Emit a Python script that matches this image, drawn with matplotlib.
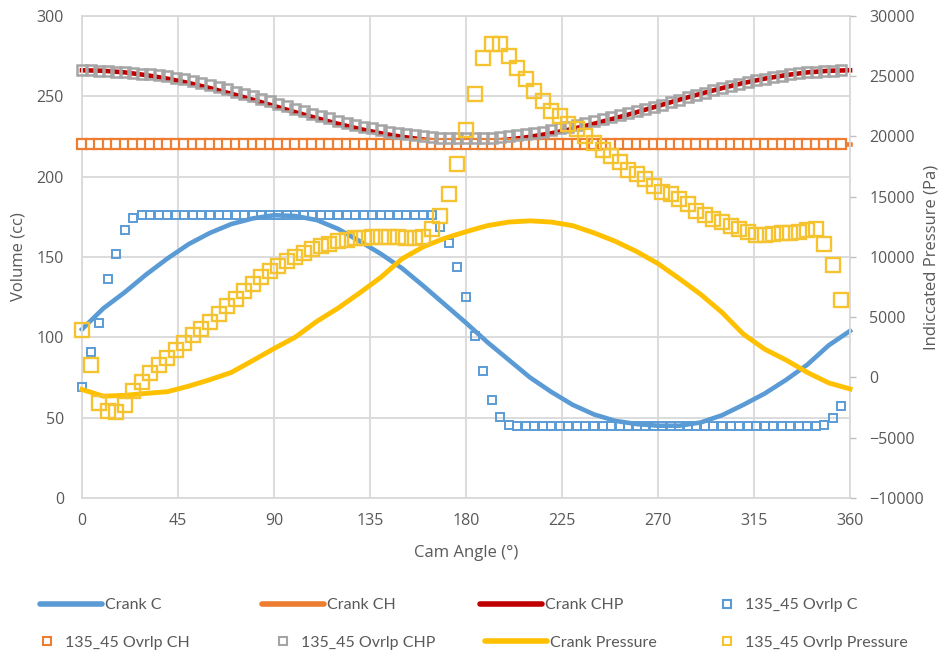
"""Volume and indicated pressure vs cam angle: crank vs 135_45 overlap."""
import matplotlib

matplotlib.use("Agg")
import matplotlib.pyplot as plt
from matplotlib.lines import Line2D

plt.rcParams["font.family"] = ["Open Sans", "DejaVu Sans"]

# ---- data ----
angle_crank = [0, 10, 20, 30, 40, 50, 60, 70, 80, 90, 100, 110, 120, 130, 140, 150, 160, 170,
               180, 190, 200, 210, 220, 230, 240, 250, 260, 270, 280, 290, 300, 310, 320, 330,
               340, 350, 360]
crank_c = [105, 118, 128, 139, 149, 158, 165, 170.5, 174, 176, 175.5, 173, 167.5, 160, 152, 143,
           132, 120.5, 109, 97, 86, 75, 66, 58, 52, 48, 46, 45, 45, 47, 51.5, 58, 65, 73.5,
           83, 95, 104]
crank_ch = [220.5] * len(angle_crank)
crank_chp = [266.2, 265.9, 264.9, 263.2, 261.0, 258.3, 255.1, 251.6, 247.9, 244.0, 240.1, 236.4,
             232.9, 229.7, 227.0, 224.8, 223.1, 222.1, 221.8, 222.1, 223.1, 224.8, 227.0, 229.7,
             232.9, 236.4, 240.1, 244.0, 247.9, 251.6, 255.1, 258.3, 261.0, 263.2, 264.9, 265.9,
             266.2]
crank_pressure = [-1000, -1550, -1480, -1320, -1180, -720, -180, 420, 1400, 2400, 3350, 4650,
                  5750, 7000, 8300, 9850, 10850, 11550, 12100, 12600, 12900, 13000, 12900, 12600,
                  12000, 11300, 10450, 9450, 8200, 6900, 5400, 3600, 2350, 1450, 420, -450, -950]

angle_ovrlp = list(range(0, 360, 4))
ovrlp_c = [69, 91, 109, 136, 152, 167, 174, 176,
           176, 176, 176, 176, 176, 176, 176, 176, 176, 176, 176, 176, 176, 176, 176, 176, 176,
           176, 176, 176, 176, 176, 176, 176, 176, 176, 176, 176, 176, 176, 176, 176, 176, 176,
           168.5, 158.5, 144, 125, 101, 79, 61, 50.5, 45.5,
           44.5, 44.5, 44.5, 44.5, 44.5, 44.5, 44.5, 44.5, 44.5, 44.5, 44.5, 44.5, 44.5, 44.5,
           44.5, 44.5, 44.5, 44.5, 44.5, 44.5, 44.5, 44.5, 44.5, 44.5, 44.5, 44.5, 44.5, 44.5,
           44.5, 44.5, 44.5, 44.5, 44.5, 44.5, 44.5, 44.5,
           45.5, 50, 57]
ovrlp_ch = [220.5] * len(angle_ovrlp)
ovrlp_chp = [266.2, 266.1, 266.0, 265.7, 265.3, 264.9, 264.6, 264.2, 263.7, 263.2, 262.5, 261.7,
             260.8, 259.7, 258.4, 257.1, 255.7, 254.3, 252.9, 251.4, 249.9, 248.3, 246.8, 245.2,
             243.7, 242.1, 240.6, 239.1, 237.7, 236.3, 234.9, 233.6, 232.3, 231.1, 230.0, 229.0,
             228.0, 227.2, 226.4, 225.7, 225.1, 224.7, 224.3, 224.0, 223.9, 223.8, 223.9, 224.0,
             224.3, 224.7, 225.1, 225.7, 226.4, 227.2, 228.0, 229.0, 230.0, 231.1, 232.3, 233.6,
             234.9, 236.1, 237.2, 238.3, 239.5, 240.7, 242.0, 243.2, 244.8, 246.3, 247.9, 249.4,
             250.9, 252.3, 253.7, 255.1, 256.4, 257.7, 258.9, 260.0, 261.0, 262.0, 262.8, 263.6,
             264.3, 264.9, 265.3, 265.7, 266.0, 266.1]
ovrlp_pressure = [3900, 1000, -2100, -2750, -2850, -2300, -1100, -350, 350, 1000, 1650, 2300,
                  2900, 3500, 4050, 4600, 5250, 5950, 6550, 7150, 7750, 8300, 8800, 9250, 9650,
                  10000, 10350, 10650, 10900, 11100, 11300, 11450, 11550, 11600, 11650, 11650,
                  11650, 11650, 11600, 11600, 11700, 12300, 13400, 15250, 17700, 20500, 23500,
                  26500, 27700, 27700, 26700, 25700, 24750, 23800, 22950, 22150, 21700, 21030,
                  20600, 20050, 19500, 18850, 18400, 17850, 17200, 16900, 16450, 15900, 15400,
                  15200, 14800, 14400, 13850, 13450, 13150, 12900, 12600, 12350, 12050, 11800,
                  11850, 11900, 11950, 12000, 12100, 12250, 12300, 11100, 9300, 6450]

angle_ticks = [0, 45, 90, 135, 180, 225, 270, 315, 360]
volume_ticks = [0, 50, 100, 150, 200, 250, 300]
pressure_ticks = [-10000, -5000, 0, 5000, 10000, 15000, 20000, 25000, 30000]

BLUE = "#5B9BD5"
ORANGE = "#ED7D31"
DARKRED = "#C00000"
GRAY = "#A5A5A5"
GOLD = "#FFC000"
GOLD_MK = "#F5C330"
TEXT = "#595959"
GRID = "#D9D9D9"

fig = plt.figure(figsize=(9.49, 6.55), dpi=100)
ax = fig.add_axes([0.0864, 0.2397, 0.8093, 0.7359])

ax.plot(angle_crank, crank_c, color=BLUE, lw=3.3, zorder=2, clip_on=False)
ax.plot(angle_crank, crank_ch, color=ORANGE, lw=3.3, zorder=2, clip_on=False)
ax.plot(angle_crank, crank_chp, color=DARKRED, lw=3.3, zorder=2, clip_on=False)
ax.plot(angle_ovrlp, ovrlp_c, ls="none", marker="s", ms=6.3, mfc="none", mec=BLUE, mew=1.4,
        zorder=3, clip_on=False)
ax.plot(angle_ovrlp, ovrlp_ch, ls="none", marker="s", ms=6.5, mfc="white", mec=ORANGE, mew=1.6,
        zorder=3, clip_on=False)
ax.plot(angle_ovrlp, ovrlp_chp, ls="none", marker="s", ms=7.6, mfc="none", mec=GRAY, mew=1.8,
        zorder=3, clip_on=False)

ax.set_xlim(0, 360)
ax.set_ylim(0, 300)
ax.set_xticks(angle_ticks)
ax.set_yticks(volume_ticks)
ax.grid(color=GRID, lw=1.3)
ax.set_axisbelow(True)
for side in ax.spines.values():
    side.set_color(GRID)
    side.set_linewidth(1.3)
ax.tick_params(axis="both", length=0, labelsize=11.5, labelcolor=TEXT)
ax.tick_params(axis="x", pad=11)
ax.tick_params(axis="y", pad=13)
ax.set_xlabel("Cam Angle (°)", fontsize=12, color=TEXT)
ax.set_ylabel("Volume (cc)", fontsize=12, color=TEXT)
ax.xaxis.set_label_coords(0.5, -0.098)
ax.yaxis.set_label_coords(-0.072, 0.5)

ax2 = ax.twinx()
ax2.plot(angle_crank, crank_pressure, color=GOLD, lw=3.5, zorder=2, clip_on=False)
ax2.plot(angle_ovrlp, ovrlp_pressure, ls="none", marker="s", ms=10.3, mfc="none", mec=GOLD_MK,
         mew=1.7, zorder=3, clip_on=False)
ax2.set_ylim(-10000, 30000)
ax2.set_yticks(pressure_ticks)
for side in ax2.spines.values():
    side.set_visible(False)
ax2.tick_params(axis="y", length=4, width=1, color="#BFBFBF", pad=10, labelsize=11.5,
                labelcolor=TEXT)
ax2.set_ylabel("Indiccated Pressure (Pa)", fontsize=12, color=TEXT, rotation=90)
ax2.yaxis.set_label_coords(1.096, 0.5)

# ---- legend laid out like the Excel one: two rows of four ----
row_y = [1 - 605 / 655, 1 - 643 / 655]


def line_handle(color):
    return Line2D([], [], color=color, lw=4, solid_capstyle="round")


def box_handle(color):
    return Line2D([], [], ls="none", marker="s", ms=6, mfc="white", mec=color, mew=1.5)


legend_items = [
    (line_handle(BLUE), "Crank C", 40, 0),
    (line_handle(ORANGE), "Crank CH", 262, 0),
    (line_handle(DARKRED), "Crank CHP", 480, 0),
    (box_handle(BLUE), "135_45 Ovrlp C", 719, 0),
    (box_handle(ORANGE), "135_45 Ovrlp CH", 39, 1),
    (box_handle(GRAY), "135_45 Ovrlp CHP", 275, 1),
    (line_handle(GOLD), "Crank Pressure", 485, 1),
    (box_handle(GOLD_MK), "135_45 Ovrlp Pressure", 719, 1),
]
for handle, label, x_px, row in legend_items:
    is_line = handle.get_linestyle() != "None"
    fig.legend([handle], [label], loc="center left", bbox_to_anchor=(x_px / 949, row_y[row]),
               frameon=False, borderpad=0, borderaxespad=0,
               handlelength=3.9 if is_line else 1.0,
               handletextpad=0.2 if is_line else 0.6,
               prop={"family": "Lato", "size": 11.5}, labelcolor=TEXT)

fig.savefig("out.png", dpi=100)
